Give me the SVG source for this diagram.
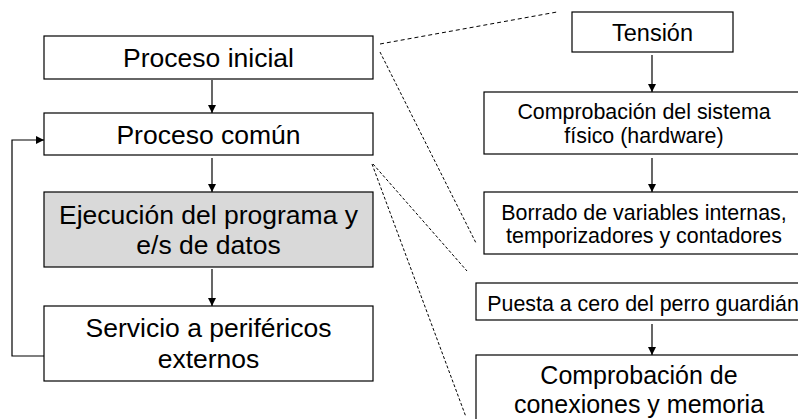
<svg xmlns="http://www.w3.org/2000/svg" width="798" height="419" viewBox="0 0 798 419">
<style>
.box{fill:#fff;stroke:#000;stroke-width:1.2}
.gray{fill:#d9d9d9}
.t{font-family:"Liberation Sans",Arial,sans-serif;fill:#000;text-anchor:middle}
.big{font-size:26.5px}
.sm{font-size:21.4px}
.arr{stroke:#000;stroke-width:1.2;fill:none;marker-end:url(#ah)}
.dash{stroke:#000;stroke-width:1;fill:none;stroke-dasharray:3 2}
</style>
<defs>
<marker id="ah" viewBox="0 0 10 10" refX="10" refY="5" markerWidth="8" markerHeight="8" markerUnits="userSpaceOnUse" orient="auto">
<path d="M0,0 L10,5 L0,10 z" fill="#000"/>
</marker>
</defs>
<rect width="798" height="419" fill="#fff"/>
<g id="n-proceso-inicial">
<rect class="box" x="44" y="36" width="329" height="43"/>
<text class="t big" x="208.5" y="67">Proceso inicial</text>
</g>
<g id="n-proceso-comun">
<rect class="box" x="44" y="113" width="329" height="42"/>
<text class="t big" x="208.5" y="144">Proceso común</text>
</g>
<g id="n-ejecucion">
<rect class="box gray" x="44" y="192" width="329" height="75"/>
<text class="t big" x="208.5" y="224">Ejecución del programa y</text>
<text class="t big" x="208.5" y="254">e/s de datos</text>
</g>
<g id="n-servicio">
<rect class="box" x="44" y="306" width="329" height="75"/>
<text class="t big" x="208.5" y="337">Servicio a periféricos</text>
<text class="t big" x="208.5" y="368">externos</text>
</g>
<g id="n-tension">
<rect class="box" x="572" y="12" width="161" height="40"/>
<text class="t" style="font-size:23.5px" x="652.5" y="41">Tensión</text>
</g>
<g id="n-comprobacion-hw">
<rect class="box" x="484" y="92" width="330" height="62"/>
<text class="t sm" x="644" y="119">Comprobación del sistema</text>
<text class="t sm" x="644" y="143">físico (hardware)</text>
</g>
<g id="n-borrado">
<rect class="box" x="484" y="192" width="330" height="62"/>
<text class="t sm" x="644" y="220">Borrado de variables internas,</text>
<text class="t sm" x="644" y="243">temporizadores y contadores</text>
</g>
<g id="n-puesta-cero">
<rect class="box" x="476" y="283" width="340" height="37"/>
<text class="t sm" x="643" y="311">Puesta a cero del perro guardián</text>
</g>
<g id="n-comprobacion-mem">
<rect class="box" x="476" y="355" width="340" height="80"/>
<text class="t" style="font-size:25px" x="639" y="384">Comprobación de</text>
<text class="t" style="font-size:25px" x="639" y="413">conexiones y memoria</text>
</g>
<g id="connectors">
<line class="arr" x1="212" y1="80" x2="212" y2="113"/>
<line class="arr" x1="212" y1="158" x2="212" y2="192"/>
<line class="arr" x1="212" y1="269" x2="212" y2="306"/>
<polyline class="arr" points="44,356 12,356 12,140 44,140"/>
<line class="arr" x1="652" y1="55" x2="652" y2="92"/>
<line class="arr" x1="652" y1="158" x2="652" y2="192"/>
<line class="arr" x1="652" y1="324" x2="652" y2="355"/>
<line class="dash" style="stroke-dasharray:4 3" x1="380" y1="44" x2="557" y2="12"/>
<line class="dash" x1="380" y1="52" x2="476" y2="243"/>
<line class="dash" x1="373" y1="164" x2="467" y2="271"/>
<line class="dash" x1="372" y1="164" x2="466" y2="417"/>
</g>
</svg>
